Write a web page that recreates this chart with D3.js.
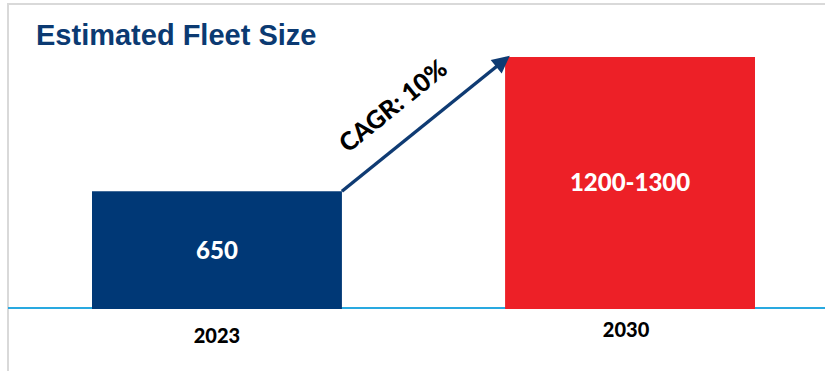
<!DOCTYPE html>
<html>
<head>
<meta charset="utf-8">
<script src="https://cdn.jsdelivr.net/npm/d3@7"></script>
<style>
  body { margin: 0; background: #fff; }
  svg { display: block; }
</style>
</head>
<body>
<svg id="chart"></svg>
<script>
// Data
const categories = ["2023", "2030"];
const fleetValues = [650, 1300];          // bar height uses upper estimate
const valueLabels = ["650", "1200-1300"];
const cagrLabel = "CAGR: 10%";
const titleText = "Estimated Fleet Size";

const width = 825, height = 371;
const baseY = 309;
const colors = ["#003876", "#ED2027"];

const svg = d3.select("#chart")
    .attr("width", width)
    .attr("height", height);

// Frame lines (light grey border top and left)
svg.append("line")
    .attr("x1", 8).attr("y1", 4).attr("x2", width).attr("y2", 4)
    .style("stroke", "#d9d9d9").style("stroke-width", "2px");
svg.append("line")
    .attr("x1", 8).attr("y1", 3).attr("x2", 8).attr("y2", height)
    .style("stroke", "#d9d9d9").style("stroke-width", "2px");

// Title
svg.append("text")
    .attr("x", 36)
    .attr("y", 45)
    .text(titleText)
    .style("font-family", "'Liberation Sans', Arial, sans-serif")
    .style("font-weight", "bold")
    .style("font-size", "29px")
    .attr("fill", "#0b3a72");

// Scales
let x = d3.scaleBand()
    .domain(categories)
    .range([92, 755])
    .paddingInner(0.395)
    .paddingOuter(0);
let y = d3.scaleLinear()
    .domain([80, 1300])
    .range([baseY, 57]);

// Baseline
svg.append("line")
    .attr("x1", 8).attr("x2", width)
    .attr("y1", baseY - 1).attr("y2", baseY - 1)
    .style("stroke", "#29a9e0")
    .style("stroke-width", "2px");

// Bars
svg.selectAll(".bar")
    .data(fleetValues)
    .join("rect")
        .attr("class", "bar")
        .attr("x", (d, i) => x(categories[i]))
        .attr("y", d => y(d))
        .attr("width", x.bandwidth())
        .attr("height", d => baseY - y(d))
        .attr("fill", (d, i) => colors[i]);

// Value labels inside bars
svg.selectAll(".valLabel")
    .data(fleetValues)
    .join("text")
        .attr("class", "valLabel")
        .attr("x", (d, i) => x(categories[i]) + x.bandwidth() / 2)
        .attr("y", d => (y(d) + baseY) / 2)
        .attr("dy", "0.35em")
        .attr("text-anchor", "middle")
        .text((d, i) => valueLabels[i])
        .style("font-family", "Lato, sans-serif")
        .style("font-weight", "900")
        .style("font-size", "24px")
        .attr("fill", "#fff");

// Category labels
svg.selectAll(".catLabel")
    .data(categories)
    .join("text")
        .attr("class", "catLabel")
        .attr("x", (d, i) => x(d) + x.bandwidth() / 2 - (i === 1 ? 4 : 0))
        .attr("y", (d, i) => i === 0 ? 343 : 337)
        .attr("text-anchor", "middle")
        .text(d => d)
        .style("font-family", "Lato, sans-serif")
        .style("font-weight", "900")
        .style("font-size", "20px")
        .attr("fill", "#000");

// Growth arrow from top-right of first bar to top-left of second bar
svg.append("defs").append("marker")
    .attr("id", "arrowHead")
    .attr("viewBox", "0 0 10 10")
    .attr("refX", 8).attr("refY", 5)
    .attr("markerWidth", 5.5).attr("markerHeight", 5)
    .attr("orient", "auto")
    .append("path")
        .attr("d", "M0,0 L10,5 L0,10 z")
        .attr("fill", "#0f3b73");

let x0 = x(categories[0]) + x.bandwidth(), y0 = y(fleetValues[0]);
let x1 = x(categories[1]) + 2, y1 = y(fleetValues[1]) + 1;
svg.append("line")
    .attr("x1", x0).attr("y1", y0)
    .attr("x2", x1).attr("y2", y1)
    .style("stroke", "#0f3b73")
    .style("stroke-width", "3.5px")
    .attr("marker-end", "url(#arrowHead)");

// CAGR label along the arrow
let angle = Math.atan2(y1 - y0, x1 - x0) * 180 / Math.PI;
let mx = (x0 + x1) / 2 - 26, my = (y0 + y1) / 2 - 12;
svg.append("text")
    .attr("transform", "translate(" + mx + "," + my + ") rotate(" + angle + ")")
    .attr("text-anchor", "middle")
    .text(cagrLabel)
    .style("font-family", "Lato, sans-serif")
    .style("font-weight", "900")
    .style("font-size", "25px")
    .attr("fill", "#000");
</script>
</body>
</html>
